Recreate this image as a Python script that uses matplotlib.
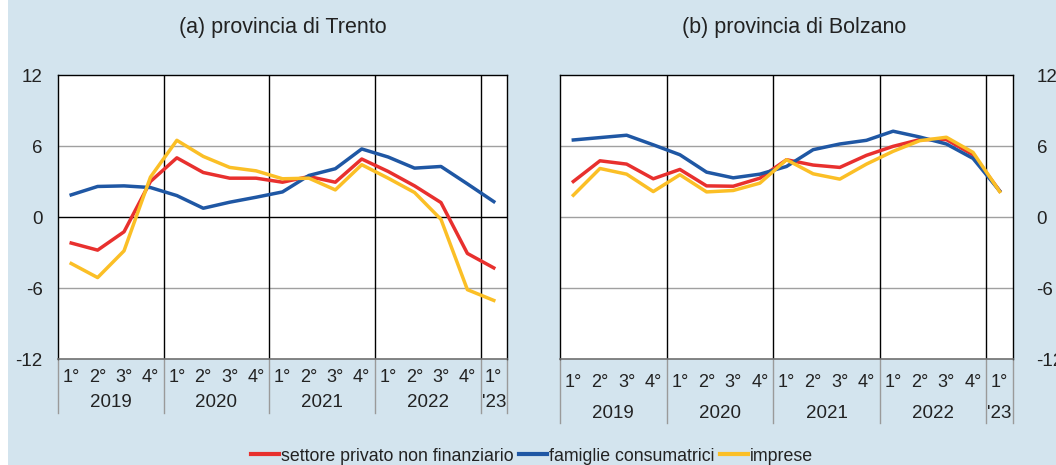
import matplotlib
matplotlib.use("Agg")
import matplotlib.pyplot as plt
from matplotlib.patches import Rectangle
from matplotlib.lines import Line2D

plt.rcParams['font.family'] = ['Liberation Sans', 'DejaVu Sans']

quarters = ["1°", "2°", "3°", "4°"] * 4 + ["1°"]
years = ["2019", "2020", "2021", "2022", "'23"]
year_groups = [4, 4, 4, 4, 1]

series_names = ["settore privato non finanziario", "famiglie consumatrici", "imprese"]
colors = ["#e8302e", "#1f57a4", "#fbbf26"]

trento_privato = [-2.2, -2.8, -1.25, 3.0, 5.0, 3.76, 3.28, 3.28, 2.94, 3.42, 2.94, 4.9, 3.85, 2.63, 1.22, -3.08, -4.3]
trento_famiglie = [1.87, 2.58, 2.63, 2.49, 1.81, 0.74, 1.25, 1.67, 2.12, 3.51, 4.08, 5.75, 5.07, 4.13, 4.27, 2.8, 1.3]
trento_imprese = [-3.93, -5.12, -2.86, 3.37, 6.48, 5.12, 4.19, 3.9, 3.23, 3.28, 2.29, 4.42, 3.28, 2.07, -0.2, -6.14, -7.05]

bolzano_privato = [3.0, 4.75, 4.47, 3.23, 4.02, 2.63, 2.6, 3.28, 4.84, 4.39, 4.19, 5.21, 5.97, 6.54, 6.54, 5.26, 2.2]
bolzano_famiglie = [6.51, 6.71, 6.91, 6.1, 5.26, 3.79, 3.31, 3.62, 4.27, 5.69, 6.17, 6.48, 7.25, 6.76, 6.17, 4.95, 2.2]
bolzano_imprese = [1.84, 4.1, 3.62, 2.15, 3.57, 2.12, 2.24, 2.86, 4.84, 3.65, 3.2, 4.47, 5.55, 6.45, 6.74, 5.46, 2.15]

yticks = [-12, -6, 0, 6, 12]
titles = ["(a) provincia di Trento", "(b) provincia di Bolzano"]

W, H = 1056, 465
fig = plt.figure(figsize=(W / 100, H / 100), dpi=100)
fig.patch.set_facecolor("white")
fig.patches.append(Rectangle((8 / W, 0), 1 - 8 / W, 1, transform=fig.transFigure,
                             facecolor="#d3e4ee", edgecolor="none", zorder=-10))

def px_axes(x0, y0, x1, y1):
    return fig.add_axes([x0 / W, 1 - y1 / H, (x1 - x0) / W, (y1 - y0) / H])

axL = px_axes(58, 75, 507, 359)
axR = px_axes(560, 75, 1013, 359)

panels = [
    (axL, [trento_privato, trento_famiglie, trento_imprese], "left", "black", 377, 402, 413),
    (axR, [bolzano_privato, bolzano_famiglie, bolzano_imprese], "right", "#a0a0a0", 382, 413, 423),
]

TXT = "#222222"
n = len(quarters)
xs = list(range(n))
for ax, data, side, zero_col, qy, yy, sepy in panels:
    ax.set_facecolor("white")
    ax.set_xlim(-0.5, n - 0.5)
    ax.set_ylim(-12, 12)
    for y in (6, -6):
        ax.axhline(y, color="#a0a0a0", lw=1, zorder=1)
    ax.axhline(0, color=zero_col, lw=1, zorder=1)
    b = -0.5
    bounds = [b]
    for g in year_groups:
        b += g
        bounds.append(b)
    for xb in bounds[1:-1]:
        ax.axvline(xb, color="black", lw=1, zorder=1)
    for vals, c in zip(data, colors):
        ax.plot(xs, vals, color=c, lw=2.5, zorder=3, solid_joinstyle="round")
    for s in ("top", "left", "right"):
        ax.spines[s].set_color("black")
        ax.spines[s].set_linewidth(1)
    ax.spines["bottom"].set_color("#707070")
    ax.spines["bottom"].set_linewidth(1.2)
    ax.set_xticks([])
    ax.set_yticks(yticks)
    ax.set_yticklabels([str(t) for t in yticks])
    if side == "left":
        ax.tick_params(axis="y", length=0, pad=11, labelsize=13.5, colors=TXT)
    else:
        ax.yaxis.tick_right()
        ax.tick_params(axis="y", length=0, pad=17, labelsize=13.5, colors=TXT)
    trans = ax.get_xaxis_transform()
    h = 284.0
    for x, q in zip(xs, quarters):
        ax.text(x, -(qy - 359) / h, q, transform=trans, ha="center", va="center",
                fontsize=13, color=TXT)
    for i, (yl, g) in enumerate(zip(years, year_groups)):
        cx = (bounds[i] + bounds[i + 1]) / 2
        ax.text(cx, -(yy - 359) / h, yl, transform=trans, ha="center", va="center",
                fontsize=13.5, color=TXT)
    for xb in bounds:
        ax.add_line(Line2D([xb, xb], [0, -(sepy - 359) / h], transform=trans,
                           color="#9a9a9a", lw=1, clip_on=False))

fig.text(283 / W, 1 - 28 / H, titles[0], ha="center", va="center", fontsize=15.5, color=TXT)
fig.text(794 / W, 1 - 28 / H, titles[1], ha="center", va="center", fontsize=15.5, color=TXT)

handles = [Line2D([], [], color=c, lw=3) for c in colors]
fig.legend(handles, series_names, ncol=3, loc="center", bbox_to_anchor=(532 / W, 1 - 456 / H),
           frameon=False, handlelength=1.6, handletextpad=0.1, columnspacing=0.3,
           fontsize=12.8, labelcolor=TXT, borderpad=0)

fig.savefig("out.png", dpi=100, facecolor=fig.get_facecolor())
